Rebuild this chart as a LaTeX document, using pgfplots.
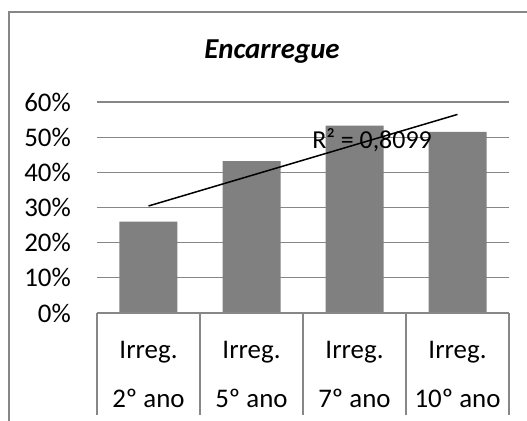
\documentclass[border=0pt]{standalone}
\usepackage{pgfplots}
\pgfplotsset{compat=1.18}
\usepackage{fontspec}
\setmainfont{Carlito}
\definecolor{bargray}{HTML}{808080}
\definecolor{gridgray}{HTML}{878787}
\begin{document}
\begin{tikzpicture}
\useasboundingbox (-97bp,-108bp) rectangle (430bp,313bp);
\draw[gridgray, line width=1.2bp] (-88bp,-108bp) -- (-88bp,301bp) -- (432bp,301bp);
\begin{axis}[
  at={(0,0)}, anchor=origin,
  scale only axis, width=412bp, height=211bp,
  xmin=0.5, xmax=4.5, ymin=0, ymax=60,
  axis line style={draw=none},
  ytick={0,10,...,60},
  xtick=\empty,
  ymajorgrids=true,
  grid style={gridgray, line width=1.2bp},
  major tick length=0pt,
  yticklabel={\pgfmathprintnumber{\tick}\%},
  /pgf/number format/assume math mode=true,
  y tick label style={font=\fontsize{27}{30}\selectfont, inner sep=0pt, xshift=-26bp},
  clip=false,
]
\addplot[ybar, bar width=58bp, fill=bargray, draw=none] coordinates {(1,26.0) (2,43.2) (3,53.3) (4,51.5)};
\addplot[black, line width=1.5bp, no marks] coordinates {(1,30.43) (4,56.47)};
\draw[gridgray, line width=1.2bp] (axis cs:0.5,0) -- (axis cs:4.5,0);
\pgfplotsinvokeforeach{0.5,1.5,2.5,3.5,4.5}{
  \draw[gridgray, line width=1.2bp] (axis cs:#1,0) -- ([yshift=-102bp]axis cs:#1,0);
}
\node[font=\fontsize{27}{30}\selectfont] at ([yshift=-39bp]axis cs:1,0) {Irreg.};
\node[font=\fontsize{27}{30}\selectfont] at ([yshift=-39bp]axis cs:2,0) {Irreg.};
\node[font=\fontsize{27}{30}\selectfont] at ([yshift=-39bp]axis cs:3,0) {Irreg.};
\node[font=\fontsize{27}{30}\selectfont] at ([yshift=-39bp]axis cs:4,0) {Irreg.};
\node[font=\fontsize{27}{30}\selectfont] at ([yshift=-85bp]axis cs:1,0) {2º ano};
\node[font=\fontsize{27}{30}\selectfont] at ([yshift=-85bp]axis cs:2,0) {5º ano};
\node[font=\fontsize{27}{30}\selectfont] at ([yshift=-85bp]axis cs:3,0) {7º ano};
\node[font=\fontsize{27}{30}\selectfont] at ([yshift=-85bp]axis cs:4,0) {10º ano};
\end{axis}
\node[font=\fontsize{29}{33}\selectfont\bfseries\itshape] at (175bp,261bp) {Encarregue};
\node[font=\fontsize{26}{30}\selectfont] at (275bp,173bp) {R² = 0,8099};
\end{tikzpicture}
\end{document}
